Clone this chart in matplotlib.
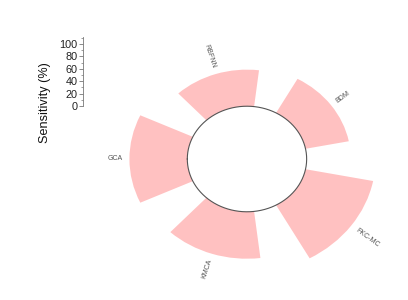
import numpy as np
import matplotlib
matplotlib.use("Agg")
import matplotlib.pyplot as plt
from matplotlib.ticker import MultipleLocator

plt.rcParams['font.family'] = ['Liberation Sans', 'DejaVu Sans']

categories = ["GCA", "RBFNN", "BDM", "FKC-MC", "KMCA"]
sensitivity = [84, 60, 64, 100, 77]
axis_ticks = [0, 20, 40, 60, 80, 100]

hole = 86.6
rmax = 220

fig = plt.figure(figsize=(4.08, 3.0), dpi=100)

# polar axes (stretched aspect, as in reference)
ax = fig.add_axes([0.2338, 0.023, 0.7431, 0.894], projection='polar')
ax.set_aspect('auto')
ax.set_theta_zero_location('W')
ax.set_theta_direction(-1)
n = len(categories)
theta = np.arange(n) * 2 * np.pi / n
width = 2 * np.pi / n * 0.69
ax.bar(theta, sensitivity, width=width, bottom=hole, color='#FFC1C1',
       edgecolor='none', align='center')
tt = np.linspace(0, 2 * np.pi, 400)
ax.plot(tt, np.full_like(tt, hole), color='#555555', lw=0.8)
ax.set_ylim(0, rmax)
ax.set_axis_off()

for th, v, lab in zip(theta, sensitivity, categories):
    # screen angle (degrees, counterclockwise from east)
    ang = (180 - np.degrees(th)) % 360
    if ang > 180:
        ang -= 360
    if -90 <= ang <= 90:
        rot, ha = ang, 'left'
    else:
        rot, ha = ang - 180, 'right'
    ax.text(th, hole + v + 10, lab, rotation=rot, rotation_mode='anchor',
            ha=ha, va='center', fontsize=5, color='#555555', clip_on=False)

# left scale
ax2 = fig.add_axes([83.3 / 408, 194 / 300, 0.001, 68.8 / 300])
ax2.set_ylim(0, 111)
ax2.set_xticks([])
ax2.set_yticks(axis_ticks)
ax2.yaxis.set_minor_locator(MultipleLocator(10))
for s in ['top', 'right', 'bottom']:
    ax2.spines[s].set_visible(False)
ax2.spines['left'].set_color('#777777')
ax2.spines['left'].set_linewidth(0.6)
ax2.tick_params(axis='y', which='major', length=3, width=0.6, color='#777777',
                labelsize=7.8, pad=1, labelcolor='#222222')
ax2.tick_params(axis='y', which='minor', length=1.5, width=0.5, color='#777777')
ax2.patch.set_visible(False)
fig.text(45 / 408, 1 - 103 / 300, "Sensitivity (%)", rotation=90,
         ha='center', va='center', fontsize=9.1, color='#111111')

fig.savefig("out.png", dpi=100)
